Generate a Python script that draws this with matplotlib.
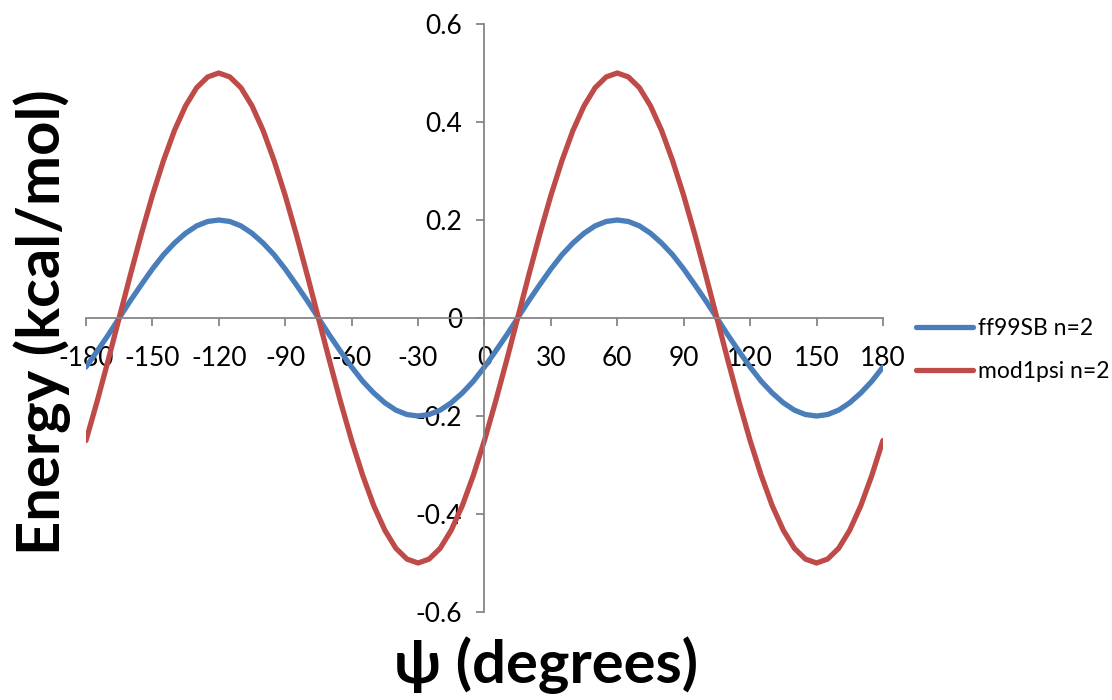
import matplotlib.pyplot as plt

# torsion energy profiles, psi in 5 degree steps
psi = list(range(-180, 181, 5))

ff99sb = [-0.1, -0.068, -0.035, 0.0, 0.035, 0.068, 0.1, 0.129, 0.153, 0.173,
          0.188, 0.197, 0.2, 0.197, 0.188, 0.173, 0.153, 0.129, 0.1, 0.068,
          0.035, 0.0, -0.035, -0.068, -0.1, -0.129, -0.153, -0.173, -0.188,
          -0.197, -0.2, -0.197, -0.188, -0.173, -0.153, -0.129, -0.1,
          -0.068, -0.035, 0.0, 0.035, 0.068, 0.1, 0.129, 0.153, 0.173,
          0.188, 0.197, 0.2, 0.197, 0.188, 0.173, 0.153, 0.129, 0.1, 0.068,
          0.035, 0.0, -0.035, -0.068, -0.1, -0.129, -0.153, -0.173, -0.188,
          -0.197, -0.2, -0.197, -0.188, -0.173, -0.153, -0.129, -0.1]

mod1psi = [-0.25, -0.171, -0.087, 0.0, 0.087, 0.171, 0.25, 0.321, 0.383,
           0.433, 0.47, 0.492, 0.5, 0.492, 0.47, 0.433, 0.383, 0.321, 0.25,
           0.171, 0.087, 0.0, -0.087, -0.171, -0.25, -0.321, -0.383, -0.433,
           -0.47, -0.492, -0.5, -0.492, -0.47, -0.433, -0.383, -0.321, -0.25,
           -0.171, -0.087, 0.0, 0.087, 0.171, 0.25, 0.321, 0.383, 0.433,
           0.47, 0.492, 0.5, 0.492, 0.47, 0.433, 0.383, 0.321, 0.25, 0.171,
           0.087, 0.0, -0.087, -0.171, -0.25, -0.321, -0.383, -0.433, -0.47,
           -0.492, -0.5, -0.492, -0.47, -0.433, -0.383, -0.321, -0.25]

xticks = list(range(-180, 181, 30))
yticks = [-0.6, -0.4, -0.2, 0, 0.2, 0.4, 0.6]
ytick_labels = ['-0.6', '-0.4', '-0.2', '0', '0.2', '0.4', '0.6']

plt.rcParams['font.family'] = ['Lato', 'DejaVu Sans']

fig = plt.figure(figsize=(11.12, 7), dpi=100)
ax = fig.add_axes([0.0773, 0.1257, 0.7167, 0.84])

ax.plot(psi, ff99sb, color='#4A7EBB', lw=3.8, label='ff99SB n=2',
        solid_capstyle='round', solid_joinstyle='round')
ax.plot(psi, mod1psi, color='#BE4B48', lw=3.8, label='mod1psi n=2',
        solid_capstyle='round', solid_joinstyle='round')

ax.set_xlim(-180, 180)
ax.set_ylim(-0.6, 0.6)

# axes cross at the origin
ax.spines['left'].set_position(('data', 0))
ax.spines['bottom'].set_position(('data', 0))
ax.spines['top'].set_visible(False)
ax.spines['right'].set_visible(False)
for s in ('left', 'bottom'):
    ax.spines[s].set_color('#868686')
    ax.spines[s].set_linewidth(1.3)

ax.set_xticks(xticks)
ax.set_xticklabels([str(t) for t in xticks])
ax.set_yticks(yticks)
ax.set_yticklabels(ytick_labels)
ax.tick_params(axis='both', direction='out', length=6, width=1.3,
               color='#868686', labelsize=19)
ax.tick_params(axis='x', pad=14)
ax.tick_params(axis='y', pad=10)

fig.text(0.038, 0.54, 'Energy (kcal/mol)', rotation=90, fontsize=43,
         fontweight='bold', ha='center', va='center')
fig.text(0.491, 0.05, '\u03c8 (degrees)', fontsize=43, fontweight='bold',
         ha='center', va='center')

ax.legend(loc='center left', bbox_to_anchor=(0.805, 0.5),
          bbox_transform=fig.transFigure, frameon=False, fontsize=16.5,
          handlelength=2.5, handletextpad=0.2, labelspacing=1.0)

fig.savefig('out.png', dpi=100)
